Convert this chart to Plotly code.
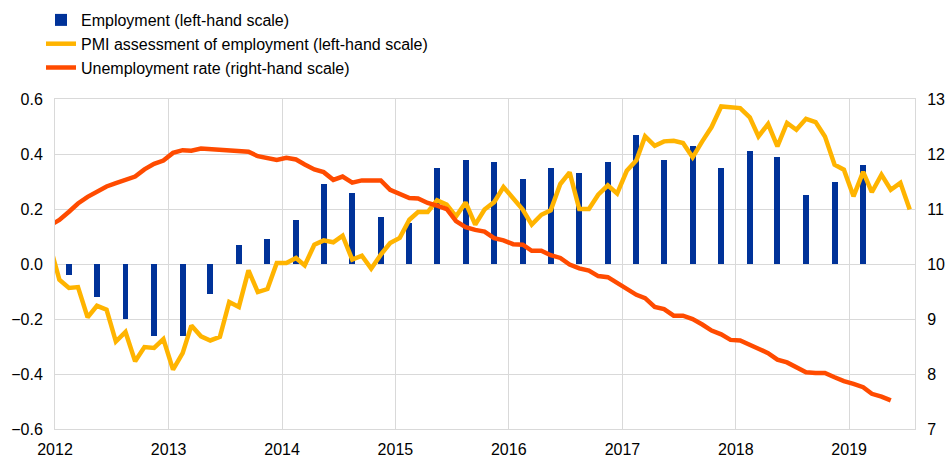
import pandas as pd
import plotly.graph_objects as go
from plotly.subplots import make_subplots

# quarterly employment growth, 2012Q1 - 2019Q1 (plotted at the middle month of each quarter)
employment = [
    -0.04, -0.12, -0.20, -0.26,
    -0.26, -0.11, 0.07, 0.09,
    0.16, 0.29, 0.26, 0.17,
    0.15, 0.35, 0.38, 0.37,
    0.31, 0.35, 0.33, 0.37,
    0.47, 0.38, 0.43, 0.35,
    0.41, 0.39, 0.25, 0.30,
    0.36,
]

# monthly PMI employment assessment, Dec 2011 - Jul 2019
pmi = [
    0.07,
    -0.057, -0.087, -0.084, -0.194, -0.152, -0.166, -0.282, -0.247, -0.354, -0.302, -0.305, -0.273,
    -0.384, -0.324, -0.224, -0.263, -0.278, -0.265, -0.138, -0.156, -0.023, -0.102, -0.091, 0.004,
    0.004, 0.022, -0.005, 0.070, 0.086, 0.079, 0.103, 0.016, 0.030, -0.017, 0.034, 0.076,
    0.095, 0.161, 0.189, 0.189, 0.232, 0.216, 0.173, 0.224, 0.143, 0.198, 0.225, 0.280,
    0.236, 0.198, 0.143, 0.179, 0.195, 0.291, 0.333, 0.200, 0.200, 0.252, 0.286, 0.256,
    0.339, 0.377, 0.464, 0.430, 0.446, 0.448, 0.440, 0.388, 0.446, 0.498, 0.573, 0.571,
    0.567, 0.533, 0.464, 0.509, 0.428, 0.513, 0.488, 0.528, 0.516, 0.464, 0.361, 0.343,
    0.246, 0.335, 0.261, 0.325, 0.270, 0.295, 0.198,
]

# monthly unemployment rate, Dec 2011 - May 2019
unemployment = [
    10.70,
    10.80, 10.95, 11.10, 11.22, 11.32, 11.41, 11.47, 11.52, 11.59, 11.72, 11.82, 11.88,
    12.02, 12.07, 12.06, 12.10, 12.09, 12.08, 12.07, 12.04, 12.04, 11.96, 11.93, 11.89,
    11.93, 11.90, 11.81, 11.72, 11.67, 11.53, 11.59, 11.48, 11.52, 11.52, 11.52, 11.35,
    11.28, 11.20, 11.19, 11.11, 11.06, 11.00, 10.78, 10.67, 10.62, 10.59, 10.47, 10.43,
    10.36, 10.35, 10.24, 10.24, 10.16, 10.11, 9.99, 9.92, 9.88, 9.78, 9.76, 9.65,
    9.56, 9.44, 9.38, 9.22, 9.18, 9.06, 9.06, 9.00, 8.90, 8.79, 8.72, 8.62,
    8.61, 8.52, 8.46, 8.38, 8.26, 8.21, 8.11, 8.03, 8.02, 8.02, 7.94, 7.87,
    7.82, 7.76, 7.64, 7.59, 7.52,
]

BLUE = "#003299"
YELLOW = "#FFB400"
ORANGE = "#FF4B00"
GRID = "#d9d9d9"

mid = pd.Timedelta(days=14)
q_dates = pd.date_range("2012-02-01", periods=len(employment), freq="3MS") + mid
pmi_dates = pd.date_range("2011-12-01", periods=len(pmi), freq="MS") + mid
ur_dates = pd.date_range("2011-12-01", periods=len(unemployment), freq="MS") + mid

fig = make_subplots(specs=[[{"secondary_y": True}]])

fig.add_trace(go.Bar(
    x=q_dates, y=employment, name="Employment (left-hand scale)",
    marker=dict(color=BLUE, line=dict(width=0)),
    width=19 * 86400000,
), secondary_y=False)

fig.add_trace(go.Scatter(
    x=pmi_dates, y=pmi, mode="lines", name="PMI assessment of employment (left-hand scale)",
    line=dict(color=YELLOW, width=4.5),
), secondary_y=False)

fig.add_trace(go.Scatter(
    x=ur_dates, y=unemployment, mode="lines", name="Unemployment rate (right-hand scale)",
    line=dict(color=ORANGE, width=4.5),
), secondary_y=True)

font = dict(family="Liberation Sans, Arial, sans-serif", size=16, color="#000000")

fig.update_layout(
    width=947, height=457,
    margin=dict(l=55, r=32, t=99, b=28, autoexpand=False),
    plot_bgcolor="white", paper_bgcolor="white",
    font=font,
    showlegend=True,
    legend=dict(
        xref="container", yref="container",
        x=41 / 947, y=1 - 3 / 457, xanchor="left", yanchor="top",
        bgcolor="rgba(0,0,0,0)", itemwidth=30, tracegroupgap=0,
        font=font,
    ),
    bargap=0,
)

fig.update_xaxes(
    type="date", range=["2012-01-01", "2019-08-01"], domain=[0, 1],
    tick0="2012-01-01", dtick="M12", tickformat="%Y",
    showgrid=True, gridcolor=GRID, gridwidth=1,
    showline=True, linecolor=GRID, mirror=True,
    ticks="", tickfont=font, zeroline=False, automargin=False,
    ticklabelstandoff=6,
)
fig.update_yaxes(
    range=[-0.6, 0.6], dtick=0.2, tickformat=".1f",
    showgrid=True, gridcolor=GRID, gridwidth=1, zeroline=False,
    showline=True, linecolor=GRID, ticks="", tickfont=font,
    ticklabelstandoff=8, automargin=False,
    secondary_y=False,
)
fig.update_yaxes(
    range=[7, 13], dtick=1,
    showgrid=False, zeroline=False,
    showline=True, linecolor=GRID, ticks="", tickfont=font,
    ticklabelstandoff=8, automargin=False,
    secondary_y=True,
)

# drop the default page margin so the figure sits at the window corner
fig.write_html(
    "out.html",
    config={"displayModeBar": False},
    post_script="document.body.style.margin = '0px';",
)
